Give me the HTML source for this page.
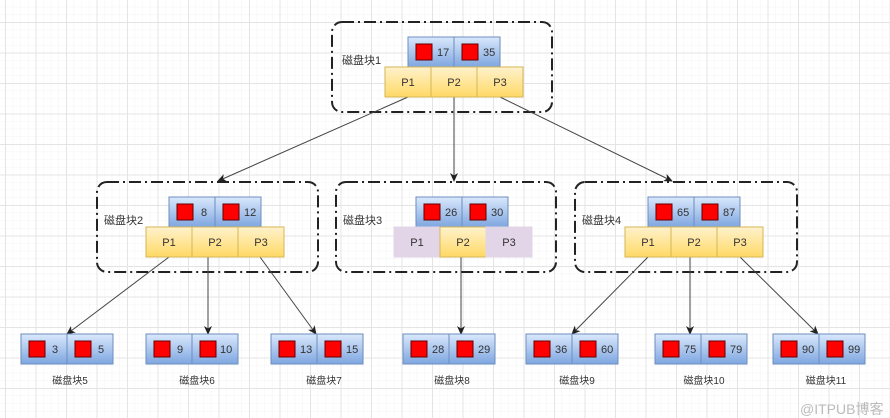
<!DOCTYPE html>
<html><head><meta charset="utf-8"><style>
html,body{margin:0;padding:0;background:#fff;}
svg{display:block;}
text{font-family:"Liberation Sans","Noto Sans CJK SC",sans-serif;font-size:11px;fill:#333;}
</style></head><body>
<svg width="890" height="418" viewBox="0 0 890 418" xmlns="http://www.w3.org/2000/svg">
<defs>
<pattern id="mi" width="7.625" height="7.625" patternUnits="userSpaceOnUse" x="5" y="22">
<path d="M0 0H7.625M0 0V7.625" stroke="#f3f3f3" stroke-width="1" fill="none"/></pattern>
<pattern id="ma" width="30.5" height="30.5" patternUnits="userSpaceOnUse" x="5" y="22">
<path d="M0 0.5H30.5M0.5 0V30.5" stroke="#e4e4e4" stroke-width="1" fill="none"/></pattern>
<linearGradient id="bl" x1="0" y1="0" x2="0" y2="1"><stop offset="0" stop-color="#dae8fc"/><stop offset="1" stop-color="#7ea6e0"/></linearGradient>
<linearGradient id="yl" x1="0" y1="0" x2="0" y2="1"><stop offset="0" stop-color="#fff2cc"/><stop offset="1" stop-color="#ffd966"/></linearGradient>
<marker id="ar" markerWidth="10" markerHeight="10" refX="8" refY="5" orient="auto" markerUnits="userSpaceOnUse"><path d="M0 1L9 5L0 9L2.5 5Z" fill="#222"/></marker>
</defs>
<rect width="890" height="418" fill="url(#mi)"/>
<rect width="890" height="418" fill="url(#ma)"/>

<g fill="none" stroke="#222" stroke-width="2" stroke-dasharray="12 4 2 4">
<rect x="332" y="22" width="220" height="90" rx="10"/>
<rect x="97" y="182" width="221" height="90" rx="10"/>
<rect x="336" y="182" width="220" height="90" rx="10"/>
<rect x="575" y="182" width="222" height="90" rx="10"/>
</g>

<g stroke="#444" stroke-width="1" fill="none" marker-end="url(#ar)">
<line x1="408" y1="97" x2="218" y2="181"/>
<line x1="454" y1="97" x2="454" y2="181"/>
<line x1="500" y1="97" x2="672" y2="181"/>
<line x1="169" y1="257" x2="67" y2="334"/>
<line x1="208" y1="257" x2="208" y2="334"/>
<line x1="260" y1="257" x2="316" y2="334"/>
<line x1="461" y1="257" x2="461" y2="334"/>
<line x1="648" y1="257" x2="572" y2="334"/>
<line x1="690" y1="257" x2="690" y2="334"/>
<line x1="740" y1="257" x2="818" y2="334"/>
</g>

<!-- helper groups: key pair -->
<g id="k1" transform="translate(408,37)">
<rect x="0" y="0" width="46" height="30" fill="url(#bl)" stroke="#6c8ebf"/><rect x="46" y="0" width="46" height="30" fill="url(#bl)" stroke="#6c8ebf"/>
<rect x="8" y="7" width="16" height="16" fill="#f00" stroke="#600"/><rect x="54" y="7" width="16" height="16" fill="#f00" stroke="#600"/>
<text x="29" y="19">17</text><text x="75" y="19">35</text></g>

<g transform="translate(169,197)">
<rect x="0" y="0" width="46" height="30" fill="url(#bl)" stroke="#6c8ebf"/><rect x="46" y="0" width="46" height="30" fill="url(#bl)" stroke="#6c8ebf"/>
<rect x="8" y="7" width="16" height="16" fill="#f00" stroke="#600"/><rect x="54" y="7" width="16" height="16" fill="#f00" stroke="#600"/>
<text x="32" y="19">8</text><text x="75" y="19">12</text></g>

<g transform="translate(416,197)">
<rect x="0" y="0" width="46" height="30" fill="url(#bl)" stroke="#6c8ebf"/><rect x="46" y="0" width="46" height="30" fill="url(#bl)" stroke="#6c8ebf"/>
<rect x="8" y="7" width="16" height="16" fill="#f00" stroke="#600"/><rect x="54" y="7" width="16" height="16" fill="#f00" stroke="#600"/>
<text x="29" y="19">26</text><text x="75" y="19">30</text></g>

<g transform="translate(648,197)">
<rect x="0" y="0" width="46" height="30" fill="url(#bl)" stroke="#6c8ebf"/><rect x="46" y="0" width="46" height="30" fill="url(#bl)" stroke="#6c8ebf"/>
<rect x="8" y="7" width="16" height="16" fill="#f00" stroke="#600"/><rect x="54" y="7" width="16" height="16" fill="#f00" stroke="#600"/>
<text x="29" y="19">65</text><text x="75" y="19">87</text></g>

<!-- P rows -->
<g stroke="#d6b656" font-size="11">
<rect x="385" y="67" width="46" height="30" fill="url(#yl)"/><rect x="431" y="67" width="46" height="30" fill="url(#yl)"/><rect x="477" y="67" width="46" height="30" fill="url(#yl)"/>
<rect x="146" y="227" width="46" height="30" fill="url(#yl)"/><rect x="192" y="227" width="46" height="30" fill="url(#yl)"/><rect x="238" y="227" width="46" height="30" fill="url(#yl)"/>
<rect x="394" y="227" width="46" height="30" fill="#e1d5e7" stroke="#e1d5e7"/><rect x="440" y="227" width="46" height="30" fill="url(#yl)"/><rect x="486" y="227" width="46" height="30" fill="#e1d5e7" stroke="#e1d5e7"/>
<rect x="625" y="227" width="46" height="30" fill="url(#yl)"/><rect x="671" y="227" width="46" height="30" fill="url(#yl)"/><rect x="717" y="227" width="46" height="30" fill="url(#yl)"/>
</g>
<g text-anchor="middle">
<text x="408" y="86">P1</text><text x="454" y="86">P2</text><text x="500" y="86">P3</text>
<text x="169" y="246">P1</text><text x="215" y="246">P2</text><text x="261" y="246">P3</text>
<text x="417" y="246">P1</text><text x="463" y="246">P2</text><text x="509" y="246">P3</text>
<text x="648" y="246">P1</text><text x="694" y="246">P2</text><text x="740" y="246">P3</text>
</g>
<text x="342" y="64" font-size="10">磁盘块1</text>
<text x="104" y="224" font-size="10">磁盘块2</text>
<text x="343" y="224" font-size="10">磁盘块3</text>
<text x="582" y="224" font-size="10">磁盘块4</text>

<!-- leaves -->
<g>
<g transform="translate(21,334)"><rect width="46" height="30" fill="url(#bl)" stroke="#6c8ebf"/><rect x="46" width="46" height="30" fill="url(#bl)" stroke="#6c8ebf"/><rect x="8" y="7" width="16" height="16" fill="#f00" stroke="#600"/><rect x="54" y="7" width="16" height="16" fill="#f00" stroke="#600"/><text x="31" y="19">3</text><text x="77" y="19">5</text></g>
<g transform="translate(146,334)"><rect width="46" height="30" fill="url(#bl)" stroke="#6c8ebf"/><rect x="46" width="46" height="30" fill="url(#bl)" stroke="#6c8ebf"/><rect x="8" y="7" width="16" height="16" fill="#f00" stroke="#600"/><rect x="54" y="7" width="16" height="16" fill="#f00" stroke="#600"/><text x="31" y="19">9</text><text x="74" y="19">10</text></g>
<g transform="translate(271,334)"><rect width="46" height="30" fill="url(#bl)" stroke="#6c8ebf"/><rect x="46" width="46" height="30" fill="url(#bl)" stroke="#6c8ebf"/><rect x="8" y="7" width="16" height="16" fill="#f00" stroke="#600"/><rect x="54" y="7" width="16" height="16" fill="#f00" stroke="#600"/><text x="29" y="19">13</text><text x="75" y="19">15</text></g>
<g transform="translate(403,334)"><rect width="46" height="30" fill="url(#bl)" stroke="#6c8ebf"/><rect x="46" width="46" height="30" fill="url(#bl)" stroke="#6c8ebf"/><rect x="8" y="7" width="16" height="16" fill="#f00" stroke="#600"/><rect x="54" y="7" width="16" height="16" fill="#f00" stroke="#600"/><text x="29" y="19">28</text><text x="75" y="19">29</text></g>
<g transform="translate(526,334)"><rect width="46" height="30" fill="url(#bl)" stroke="#6c8ebf"/><rect x="46" width="46" height="30" fill="url(#bl)" stroke="#6c8ebf"/><rect x="8" y="7" width="16" height="16" fill="#f00" stroke="#600"/><rect x="54" y="7" width="16" height="16" fill="#f00" stroke="#600"/><text x="29" y="19">36</text><text x="75" y="19">60</text></g>
<g transform="translate(655,334)"><rect width="46" height="30" fill="url(#bl)" stroke="#6c8ebf"/><rect x="46" width="46" height="30" fill="url(#bl)" stroke="#6c8ebf"/><rect x="8" y="7" width="16" height="16" fill="#f00" stroke="#600"/><rect x="54" y="7" width="16" height="16" fill="#f00" stroke="#600"/><text x="29" y="19">75</text><text x="75" y="19">79</text></g>
<g transform="translate(773,334)"><rect width="46" height="30" fill="url(#bl)" stroke="#6c8ebf"/><rect x="46" width="46" height="30" fill="url(#bl)" stroke="#6c8ebf"/><rect x="8" y="7" width="16" height="16" fill="#f00" stroke="#600"/><rect x="54" y="7" width="16" height="16" fill="#f00" stroke="#600"/><text x="29" y="19">90</text><text x="75" y="19">99</text></g>
</g>
<g text-anchor="middle" font-size="10">
<text x="70" y="384" style="font-size:10px">磁盘块5</text>
<text x="197" y="384" style="font-size:10px">磁盘块6</text>
<text x="324" y="384" style="font-size:10px">磁盘块7</text>
<text x="452" y="384" style="font-size:10px">磁盘块8</text>
<text x="577" y="384" style="font-size:10px">磁盘块9</text>
<text x="704" y="384" style="font-size:10px">磁盘块10</text>
<text x="826" y="384" style="font-size:10px">磁盘块11</text>
</g>
<text x="800" y="414" style="font-size:14px;fill:#bbb">@ITPUB博客</text>
</svg>
</body></html>
